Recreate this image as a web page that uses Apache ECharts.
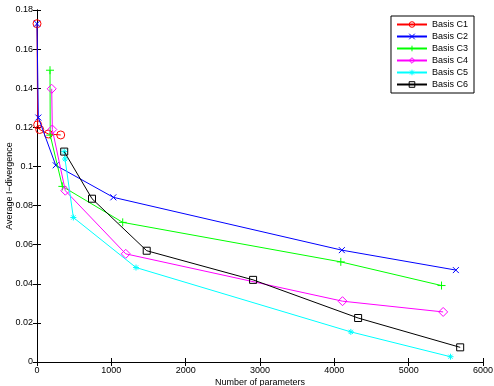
<!DOCTYPE html>
<html>
<head>
<meta charset="utf-8">
<script src="https://cdn.jsdelivr.net/npm/echarts@6/dist/echarts.min.js"></script>
<style>
html, body { margin: 0; padding: 0; background: #fff; }
#chartmain { width: 494px; height: 386px; }
</style>
</head>
<body>
<div id="chartmain"></div>
<script>
var names = ['Basis C1', 'Basis C2', 'Basis C3', 'Basis C4', 'Basis C5', 'Basis C6'];
var colors = ['#ff0000', '#0000ff', '#00ff00', '#ff00ff', '#00ffff', '#000000'];

var c1 = [[0, 0.173], [9, 0.1213], [36, 0.1189], [152, 0.1166], [319, 0.1161]];
var c2 = [[0, 0.173], [18, 0.125], [252, 0.1006], [1027, 0.0842], [4101, 0.0572], [5635, 0.047]];
var c3 = [[175, 0.1492], [178, 0.116], [341, 0.0898], [1153, 0.0714], [4087, 0.0512], [5442, 0.0391]];
var c4 = [[198, 0.1397], [206, 0.1189], [381, 0.0876], [1194, 0.0553], [4110, 0.0311], [5464, 0.0256]];
var c5 = [[366, 0.1076], [377, 0.1038], [489, 0.0739], [1332, 0.0483], [4222, 0.0154], [5563, 0.0027]];
var c6 = [[366, 0.1076], [740, 0.0835], [1476, 0.0569], [2907, 0.042], [4320, 0.0225], [5693, 0.0075]];

var xTicks = [0, 1000, 2000, 3000, 4000, 5000, 6000];
var yTicks = [0, 0.02, 0.04, 0.06, 0.08, 0.1, 0.12, 0.14, 0.16, 0.18];

var symbols = [
	'circle',
	'path://M0,0L10,10M10,0L0,10',
	'path://M5,0L5,10M0,5L10,5',
	'diamond',
	'path://M5,0L5,10M0,5L10,5M1.5,1.5L8.5,8.5M8.5,1.5L1.5,8.5',
	'rect'
];
var sizes = [8, 6, 8, 9, 6, 7];
var allData = [c1, c2, c3, c4, c5, c6];

var font = 'Liberation Sans, Arial, sans-serif';
var clear = 'rgba(255,255,255,0)';

var series = [];
var legendData = [];
for (var i = 0; i < allData.length; i++) {
	series.push({
		name : names[i],
		type : 'line',
		data : allData[i],
		symbol : symbols[i],
		symbolSize : sizes[i],
		showAllSymbol : true,
		lineStyle : { color : colors[i], width : 1 },
		itemStyle : { color : clear, borderColor : colors[i], borderWidth : 1 },
		emphasis : { disabled : true },
		z : 2 + i
	});
	legendData.push({
		name : names[i],
		itemStyle : { color : clear, borderColor : colors[i], borderWidth : 1 }
	});
}

var axisText = { color : '#000', fontSize : 9, fontFamily : font };

var option = {
	animation : false,
	grid : {
		left : 37,
		right : 11,
		top : 10,
		bottom : 24,
		containLabel : false,
		outerBoundsMode : 'none'
	},
	legend : {
		data : legendData,
		orient : 'vertical',
		right : 20,
		top : 16,
		backgroundColor : '#fff',
		borderColor : '#000',
		borderWidth : 1,
		padding : [4, 6, 4, 5],
		itemWidth : 30,
		itemHeight : 7,
		itemGap : 3,
		itemStyle : { color : clear, borderWidth : 1 },
		textStyle : { color : '#000', fontSize : 9, fontFamily : font }
	},
	xAxis : [{
		type : 'value',
		min : 0,
		max : 6000,
		interval : 1000,
		name : 'Number of parameters',
		nameLocation : 'middle',
		nameGap : 16,
		nameMoveOverlap : false,
		nameTextStyle : axisText,
		axisLine : { show : true, lineStyle : { color : '#000', width : 1 } },
		axisTick : { show : true, inside : true, length : 4, lineStyle : { color : '#000' } },
		axisLabel : { color : '#000', fontSize : 9, fontFamily : font, margin : 4,
			formatter : function(v) { return String(v); } },
		splitLine : { show : false }
	}, {
		type : 'value',
		position : 'top',
		min : 0,
		max : 6000,
		interval : 1000,
		axisLine : { show : true, lineStyle : { color : '#000', width : 1 } },
		axisTick : { show : true, inside : true, length : 4, lineStyle : { color : '#000' } },
		axisLabel : { show : false },
		splitLine : { show : false }
	}],
	yAxis : [{
		type : 'value',
		min : 0,
		max : 0.18,
		interval : 0.02,
		name : 'Average I\u2212divergence',
		nameLocation : 'middle',
		nameRotate : 90,
		nameGap : 23,
		nameMoveOverlap : false,
		nameTextStyle : axisText,
		axisLine : { show : true, lineStyle : { color : '#000', width : 1 } },
		axisTick : { show : true, inside : true, length : 4, lineStyle : { color : '#000' } },
		axisLabel : { color : '#000', fontSize : 9, fontFamily : font, margin : 4,
			formatter : function(v) { return String(v); } },
		splitLine : { show : false }
	}, {
		type : 'value',
		position : 'right',
		min : 0,
		max : 0.18,
		interval : 0.02,
		axisLine : { show : true, lineStyle : { color : '#000', width : 1 } },
		axisTick : { show : true, inside : true, length : 4, lineStyle : { color : '#000' } },
		axisLabel : { show : false },
		splitLine : { show : false }
	}],
	series : series
};

var myChart = echarts.init(document.getElementById('chartmain'));
myChart.setOption(option);
</script>
</body>
</html>
